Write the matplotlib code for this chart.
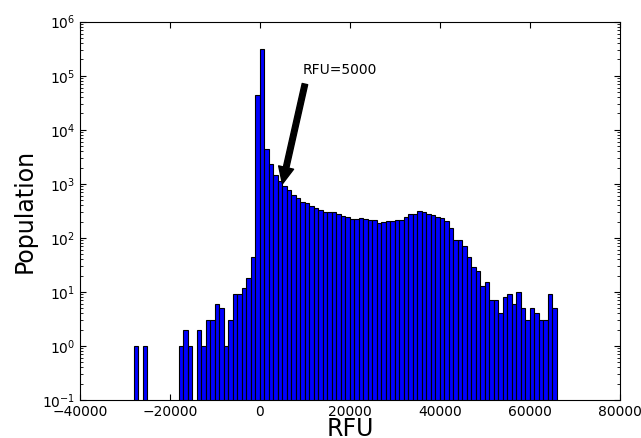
import matplotlib
matplotlib.use("Agg")
import matplotlib.pyplot as plt
import numpy as np

# histogram: bins of 1000 RFU starting at -28000
bin_left = np.arange(-28000, 66000, 1000)
counts = [1, 0, 1, 0, 0, 0, 0, 0, 0, 0,
          1, 2, 1, 0, 2, 1, 3, 3, 6, 5,
          1, 3, 9, 9, 12, 18, 45, 44000, 310000, 4500,
          2300, 1450, 1150, 900, 760, 630, 550, 460, 450, 395,
          350, 325, 295, 295, 295, 282, 255, 245, 225, 222,
          237, 225, 213, 213, 190, 198, 205, 205, 210, 213,
          240, 282, 282, 312, 295, 282, 263, 245, 229, 204,
          153, 93, 91, 70, 44, 29, 24, 13, 15, 7,
          7, 4, 8, 9, 6, 10, 5, 3, 5, 4,
          3, 3, 9, 5]
xticks = [-40000, -20000, 0, 20000, 40000, 60000, 80000]

fig = plt.figure(figsize=(6.41, 4.38), dpi=100)
ax = fig.add_axes([0.1248, 0.0868, 0.8422, 0.8637])

counts = np.array(counts, dtype=float)
nz = counts > 0
ax.bar(bin_left[nz], counts[nz], width=1000, align='edge',
       color='#0000ff', edgecolor='black', linewidth=0.8)

ax.set_yscale('log')
ax.set_ylim(0.1, 1e6)
ax.set_xlim(-40000, 80000)
ax.set_xticks(xticks)
ax.tick_params(which='both', direction='in', top=True, right=True, labelsize=10)
ax.tick_params(which='major', length=4)
ax.tick_params(which='minor', length=2)

ax.set_xlabel('RFU', fontsize=17, labelpad=-1)
ax.set_ylabel('Population', fontsize=17)

ax.annotate('', xy=(5000, 1000), xytext=(10000, 7e4),
            arrowprops=dict(facecolor='black', edgecolor='black',
                            width=4, headwidth=11, headlength=12, shrink=0.0))
ax.text(9500, 1.25e5, 'RFU=5000', fontsize=10, va='center')

fig.savefig('out.png', dpi=100)
